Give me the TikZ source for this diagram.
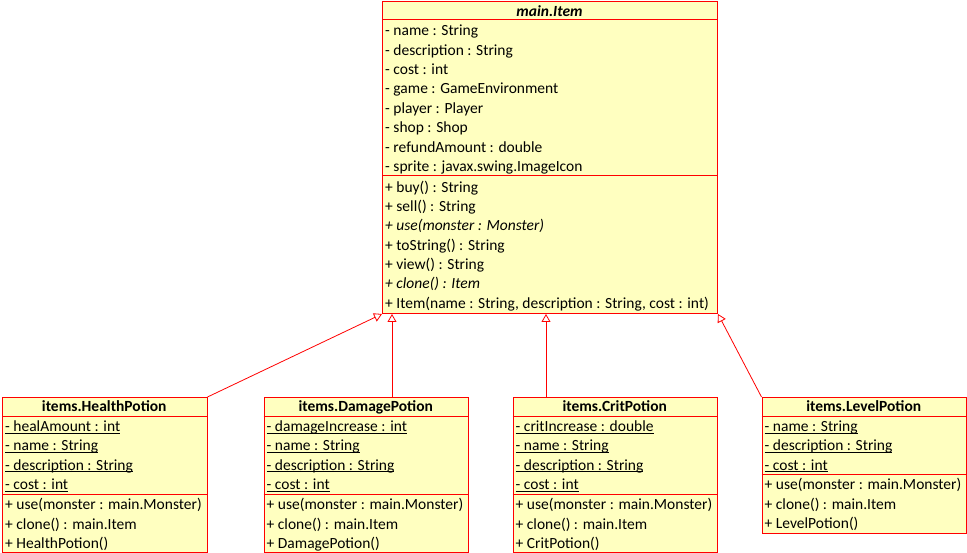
\documentclass[tikz,border=0pt]{standalone}
\usepackage{fontspec}
\setmainfont{Carlito}
\usetikzlibrary{arrows.meta}
\definecolor{umlfill}{RGB}{255,255,192}
\definecolor{umlred}{RGB}{255,0,0}
\newcommand\ulx[1]{\setbox0\hbox{#1}\rlap{\rule[-2.2pt]{\wd0}{0.9pt}}\box0}
\begin{document}
\begin{tikzpicture}[x=1pt,y=-1pt,
  box/.style={draw=umlred, fill=umlfill, line width=1pt, rectangle, inner sep=0pt, anchor=north west},
  sep/.style={draw=umlred, line width=1pt},
  mem/.style={anchor=base west, inner sep=0pt, font=\fontsize{15.5}{18}\selectfont},
  ttl/.style={anchor=base, inner sep=0pt, font=\fontsize{15.5}{18}\selectfont\bfseries},
  inh/.style={draw=umlred, line width=0.8pt, -{Triangle[length=8pt,width=9pt,fill=white]}}]
\useasboundingbox (0,0) rectangle (967,553);

% ---------------- main.Item ----------------
\node[box, minimum width=335pt, minimum height=311.5pt] (item) at (382,1.5) {};
\draw[sep] (item.west |- 0,20) -- (item.east |- 0,20);
\draw[sep] (item.west |- 0,176) -- (item.east |- 0,176);
\node[ttl] (itemT) at (549.5,16.2) {\itshape main.Item};
\node[mem] (itemA1) at (385,35.8)  {- name : String};
\node[mem] (itemA2) at (385,55.2)  {- description : String};
\node[mem] (itemA3) at (385,74.6)  {- cost : int};
\node[mem] (itemA4) at (385,94.0)  {- game : GameEnvironment};
\node[mem] (itemA5) at (385,113.4) {- player : Player};
\node[mem] (itemA6) at (385,132.8) {- shop : Shop};
\node[mem] (itemA7) at (385,152.2) {- refundAmount : double};
\node[mem] (itemA8) at (385,171.6) {- sprite : javax.swing.ImageIcon};
\node[mem] (itemM1) at (385,192.3) {+ buy() : String};
\node[mem] (itemM2) at (385,211.6) {+ sell() : String};
\node[mem] (itemM3) at (385,230.9) {\itshape + use(monster : Monster)};
\node[mem] (itemM4) at (385,250.2) {+ toString() : String};
\node[mem] (itemM5) at (385,269.5) {+ view() : String};
\node[mem] (itemM6) at (385,288.8) {\itshape + clone() : Item};
\node[mem] (itemM7) at (385,308.1) {+ Item(name : String, description : String, cost : int)};

% ---------------- items.HealthPotion ----------------
\node[box, minimum width=204.5pt, minimum height=155pt] (hp) at (2,397) {};
\draw[sep] (hp.west |- 0,416) -- (hp.east |- 0,416);
\draw[sep] (hp.west |- 0,494) -- (hp.east |- 0,494);
\node[ttl] (hpT) at (104.25,411.6) {items.HealthPotion};
\node[mem] (hpA1) at (5,431.4) {\ulx{- healAmount : int}};
\node[mem] (hpA2) at (5,450.7) {\ulx{- name : String}};
\node[mem] (hpA3) at (5,470.0) {\ulx{- description : String}};
\node[mem] (hpA4) at (5,489.4) {\ulx{- cost : int}};
\node[mem] (hpM1) at (5,509.7) {+ use(monster : main.Monster)};
\node[mem] (hpM2) at (5,529.0) {+ clone() : main.Item};
\node[mem] (hpM3) at (5,548.3) {+ HealthPotion()};

% ---------------- items.DamagePotion ----------------
\node[box, minimum width=204.5pt, minimum height=155pt] (dp) at (263.5,397) {};
\draw[sep] (dp.west |- 0,416) -- (dp.east |- 0,416);
\draw[sep] (dp.west |- 0,494) -- (dp.east |- 0,494);
\node[ttl] (dpT) at (365.75,411.6) {items.DamagePotion};
\node[mem] (dpA1) at (266.5,431.4) {\ulx{- damageIncrease : int}};
\node[mem] (dpA2) at (266.5,450.7) {\ulx{- name : String}};
\node[mem] (dpA3) at (266.5,470.0) {\ulx{- description : String}};
\node[mem] (dpA4) at (266.5,489.4) {\ulx{- cost : int}};
\node[mem] (dpM1) at (266.5,509.7) {+ use(monster : main.Monster)};
\node[mem] (dpM2) at (266.5,529.0) {+ clone() : main.Item};
\node[mem] (dpM3) at (266.5,548.3) {+ DamagePotion()};

% ---------------- items.CritPotion ----------------
\node[box, minimum width=204.5pt, minimum height=155pt] (cp) at (512.5,397) {};
\draw[sep] (cp.west |- 0,416) -- (cp.east |- 0,416);
\draw[sep] (cp.west |- 0,494) -- (cp.east |- 0,494);
\node[ttl] (cpT) at (614.75,411.6) {items.CritPotion};
\node[mem] (cpA1) at (515.5,431.4) {\ulx{- critIncrease : double}};
\node[mem] (cpA2) at (515.5,450.7) {\ulx{- name : String}};
\node[mem] (cpA3) at (515.5,470.0) {\ulx{- description : String}};
\node[mem] (cpA4) at (515.5,489.4) {\ulx{- cost : int}};
\node[mem] (cpM1) at (515.5,509.7) {+ use(monster : main.Monster)};
\node[mem] (cpM2) at (515.5,529.0) {+ clone() : main.Item};
\node[mem] (cpM3) at (515.5,548.3) {+ CritPotion()};

% ---------------- items.LevelPotion ----------------
\node[box, minimum width=204.5pt, minimum height=136.3pt] (lp) at (761.5,397) {};
\draw[sep] (lp.west |- 0,416) -- (lp.east |- 0,416);
\draw[sep] (lp.west |- 0,474.5) -- (lp.east |- 0,474.5);
\node[ttl] (lpT) at (863.75,411.6) {items.LevelPotion};
\node[mem] (lpA1) at (764.5,431.4) {\ulx{- name : String}};
\node[mem] (lpA2) at (764.5,450.7) {\ulx{- description : String}};
\node[mem] (lpA3) at (764.5,470.0) {\ulx{- cost : int}};
\node[mem] (lpM1) at (764.5,489.9) {+ use(monster : main.Monster)};
\node[mem] (lpM2) at (764.5,509.2) {+ clone() : main.Item};
\node[mem] (lpM3) at (764.5,528.5) {+ LevelPotion()};

% ---------------- generalisations ----------------
\coordinate (dpTop) at (392,397);
\coordinate (cpTop) at (546,397);
\draw[inh] (hp.north east) -- (item.south west);
\draw[inh] (dpTop) -- (dpTop |- item.south);
\draw[inh] (cpTop) -- (cpTop |- item.south);
\draw[inh] (lp.north west) -- (item.south east);
\end{tikzpicture}
\end{document}
